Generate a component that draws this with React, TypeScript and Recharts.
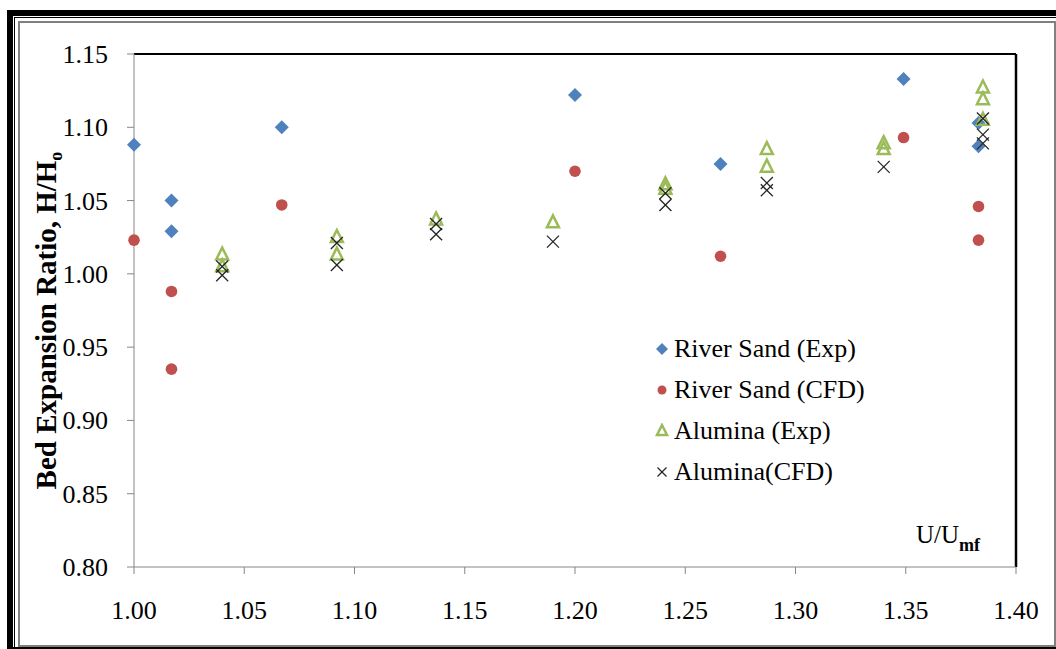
import React from "react";
import {
  ScatterChart,
  Scatter,
  XAxis,
  YAxis,
  ReferenceLine,
  Legend,
} from "recharts";

const FONT = '"Liberation Serif", "Times New Roman", serif';

// U/Umf values and bed expansion ratio
const riverExpX = [1.0, 1.017, 1.017, 1.067, 1.2, 1.266, 1.349, 1.383, 1.383];
const riverExpY = [1.088, 1.05, 1.029, 1.1, 1.122, 1.075, 1.133, 1.103, 1.087];

const riverCfdX = [1.0, 1.017, 1.017, 1.067, 1.2, 1.266, 1.349, 1.383, 1.383];
const riverCfdY = [1.023, 0.988, 0.935, 1.047, 1.07, 1.012, 1.093, 1.046, 1.023];

const aluExpX = [1.04, 1.04, 1.092, 1.092, 1.137, 1.19, 1.241, 1.241, 1.287, 1.287, 1.34, 1.34, 1.385, 1.385, 1.385];
const aluExpY = [1.013, 1.005, 1.025, 1.013, 1.037, 1.035, 1.061, 1.058, 1.085, 1.073, 1.089, 1.085, 1.127, 1.119, 1.105];

const aluCfdX = [1.04, 1.04, 1.092, 1.092, 1.137, 1.137, 1.19, 1.241, 1.241, 1.287, 1.287, 1.34, 1.385, 1.385, 1.385];
const aluCfdY = [1.005, 0.999, 1.021, 1.006, 1.034, 1.027, 1.022, 1.055, 1.047, 1.062, 1.057, 1.073, 1.106, 1.095, 1.089];

const seriesNames = ["River Sand (Exp)", "River Sand (CFD)", "Alumina (Exp)", "Alumina(CFD)"];

const xTicks = [1.0, 1.05, 1.1, 1.15, 1.2, 1.25, 1.3, 1.35, 1.4];
const yTicks = [0.8, 0.85, 0.9, 0.95, 1.0, 1.05, 1.1, 1.15];

const zip = (xs: number[], ys: number[]) => xs.map((x, i) => ({ x, y: ys[i] }));

const BLUE = "#4F81BD";
const RED = "#C0504D";
const GREEN = "#9BBB59";
const DARK = "#262626";

function Diamond({ cx, cy, s = 7 }: any) {
  return (
    <path
      d={`M${cx},${cy - s} L${cx + s},${cy} L${cx},${cy + s} L${cx - s},${cy} Z`}
      fill={BLUE}
    />
  );
}

function Dot({ cx, cy, r = 5.8 }: any) {
  return <circle cx={cx} cy={cy} r={r} fill={RED} />;
}

function Tri({ cx, cy, s = 6 }: any) {
  return (
    <path
      d={`M${cx},${cy - s * 1.2} L${cx + s},${cy + s * 0.8} L${cx - s},${cy + s * 0.8} Z`}
      fill="none"
      stroke={GREEN}
      strokeWidth={2.5}
    />
  );
}

function Cross({ cx, cy, s = 6 }: any) {
  return (
    <g stroke={DARK} strokeWidth={1.3}>
      <line x1={cx - s} y1={cy - s} x2={cx + s} y2={cy + s} />
      <line x1={cx - s} y1={cy + s} x2={cx + s} y2={cy - s} />
    </g>
  );
}

const icons: Record<string, (cx: number, cy: number) => React.ReactNode> = {
  "River Sand (Exp)": (cx, cy) => <Diamond cx={cx} cy={cy} s={6} />,
  "River Sand (CFD)": (cx, cy) => <Dot cx={cx} cy={cy} r={4.5} />,
  "Alumina (Exp)": (cx, cy) => <Tri cx={cx} cy={cy} s={5} />,
  "Alumina(CFD)": (cx, cy) => <Cross cx={cx} cy={cy} s={4.5} />,
};

function LegendBox(props: any) {
  const items = [...(props.payload || [])].sort(
    (a: any, b: any) => seriesNames.indexOf(a.value) - seriesNames.indexOf(b.value)
  );
  return (
    <div style={{ fontFamily: FONT, fontSize: 26, color: "#000" }}>
      {items.map((it: any) => (
        <div
          key={it.value}
          style={{ height: 41, display: "flex", alignItems: "center", whiteSpace: "nowrap" }}
        >
          <svg width={16} height={16} style={{ marginRight: 4 }}>
            {icons[it.value]?.(8, 8)}
          </svg>
          <span>{it.value}</span>
        </div>
      ))}
    </div>
  );
}

function YTitle({ viewBox }: any) {
  const x = viewBox.x - 18;
  const y = viewBox.y + viewBox.height / 2 + 10;
  return (
    <text
      x={x}
      y={y}
      transform={`rotate(-90, ${x}, ${y})`}
      textAnchor="middle"
      fontFamily={FONT}
      fontWeight="bold"
      fontSize={29}
      fill="#000"
    >
      Bed Expansion Ratio, H/H
      <tspan fontSize={18} dy={6}>
        o
      </tspan>
    </text>
  );
}

function XTitle({ viewBox }: any) {
  const x = viewBox.x + viewBox.width - 36;
  const y = viewBox.y - 24;
  return (
    <text x={x} y={y} textAnchor="end" fontFamily={FONT} fontSize={25} fill="#000">
      U/U
      <tspan fontSize={18} fontWeight="bold" dy={8}>
        mf
      </tspan>
    </text>
  );
}

function Tick({ x, y, payload, textAnchor, dy }: any) {
  return (
    <text
      x={x}
      y={y}
      dy={dy}
      textAnchor={textAnchor}
      fontFamily={FONT}
      fontSize={26}
      fill="#000"
    >
      {payload.value.toFixed(2)}
    </text>
  );
}

export default function App() {
  return (
    <div
      style={{
        position: "absolute",
        left: 0,
        top: 0,
        width: 1056,
        height: 649,
        background: "#fff",
        overflow: "hidden",
        fontFamily: FONT,
      }}
    >
      <ScatterChart
        width={1056}
        height={649}
        margin={{ top: 54, right: 40, bottom: 32, left: 74 }}
        style={{ fontFamily: FONT }}
      >
        <XAxis
          type="number"
          dataKey="x"
          domain={[1, 1.4]}
          ticks={xTicks}
          interval={0}
          height={50}
          tickSize={7}
          tickMargin={27}
          axisLine={{ stroke: "#868686" }}
          tickLine={{ stroke: "#868686" }}
          tick={(p: any) => <Tick {...p} textAnchor="middle" dy={18} />}
          label={<XTitle />}
        />
        <YAxis
          type="number"
          dataKey="y"
          domain={[0.8, 1.15]}
          ticks={yTicks}
          interval={0}
          width={60}
          tickSize={7}
          tickMargin={19}
          axisLine={{ stroke: "#868686" }}
          tickLine={{ stroke: "#868686" }}
          tick={(p: any) => <Tick {...p} textAnchor="end" dy={9} />}
          label={<YTitle />}
        />
        <ReferenceLine y={1.15} stroke="#000" strokeWidth={2} />
        <ReferenceLine x={1.4} stroke="#000" strokeWidth={2.5} />
        <Scatter
          name="River Sand (Exp)"
          data={zip(riverExpX, riverExpY)}
          shape={(p: any) => <Diamond cx={p.cx} cy={p.cy} />}
          isAnimationActive={false}
        />
        <Scatter
          name="River Sand (CFD)"
          data={zip(riverCfdX, riverCfdY)}
          shape={(p: any) => <Dot cx={p.cx} cy={p.cy} />}
          isAnimationActive={false}
        />
        <Scatter
          name="Alumina (Exp)"
          data={zip(aluExpX, aluExpY)}
          shape={(p: any) => <Tri cx={p.cx} cy={p.cy} />}
          isAnimationActive={false}
        />
        <Scatter
          name="Alumina(CFD)"
          data={zip(aluCfdX, aluCfdY)}
          shape={(p: any) => <Cross cx={p.cx} cy={p.cy} />}
          isAnimationActive={false}
        />
        <Legend
          layout="vertical"
          align="center"
          verticalAlign="middle"
          content={<LegendBox />}
          wrapperStyle={{ left: 654, top: 328, width: 240, height: 164 }}
        />
      </ScatterChart>

      {/* outer frame */}
      <div style={{ position: "absolute", left: 7, top: 10, width: 1049, height: 6, background: "#000" }} />
      <div style={{ position: "absolute", left: 7, top: 10, width: 6, height: 639, background: "#000" }} />
      <div style={{ position: "absolute", left: 14, top: 17, width: 1042, height: 1, background: "#000" }} />
      <div style={{ position: "absolute", left: 14, top: 17, width: 1, height: 632, background: "#000" }} />
      <div
        style={{
          position: "absolute",
          left: 18,
          top: 21,
          width: 1038,
          height: 626,
          border: "2px solid #808080",
          boxSizing: "border-box",
        }}
      />
      <div style={{ position: "absolute", left: 7, top: 647, width: 1049, height: 2, background: "#000" }} />
    </div>
  );
}
